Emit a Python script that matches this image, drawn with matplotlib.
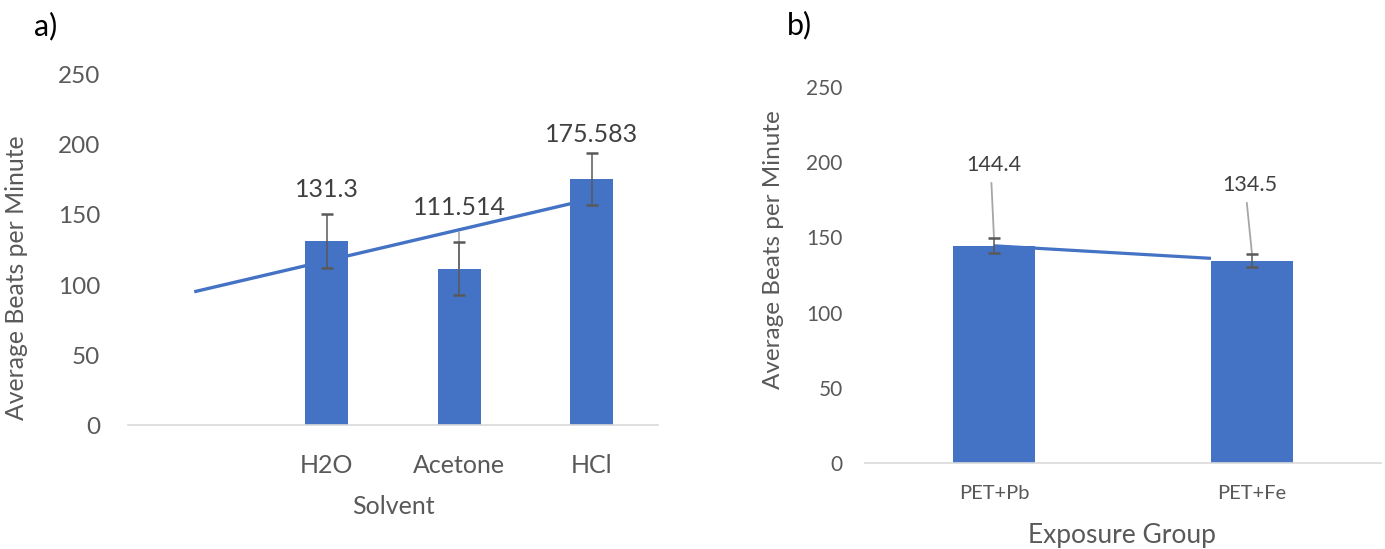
import numpy as np
import matplotlib
matplotlib.use("Agg")
import matplotlib.pyplot as plt

plt.rcParams['font.family'] = ['Lato', 'DejaVu Sans']

# ---- data ----
solvents = ["", "H2O", "Acetone", "HCl"]
solvent_bpm = [np.nan, 131.3, 111.514, 175.583]
solvent_err = [0, 19.2, 19.0, 18.7]

groups = ["PET+Pb", "PET+Fe"]
group_bpm = [144.4, 134.5]
group_err = [5.0, 4.4]

y_ticks = [0, 50, 100, 150, 200, 250]

# ---- styling ----
BAR = "#4472C4"
TICK = "#595959"
LABEL = "#404040"
AXIS = "#d9d9d9"
ERR = "#595959"

W, H = 1385, 549
fig = plt.figure(figsize=(W / 100, H / 100), dpi=100)


def px_axes(x0, x1, y_top, y_bot):
    return fig.add_axes([x0 / W, (H - y_bot) / H, (x1 - x0) / W, (y_bot - y_top) / H])


def style(ax, ncat, xsize, ysize, xpad, ypad):
    ax.set_xlim(-0.5, ncat - 0.5)
    ax.set_ylim(0, 250)
    for s in ("top", "right", "left"):
        ax.spines[s].set_visible(False)
    ax.spines["bottom"].set_color(AXIS)
    ax.spines["bottom"].set_linewidth(1.2)
    ax.set_yticks(y_ticks)
    ax.tick_params(axis="both", length=0, labelcolor=TICK)
    ax.tick_params(axis="x", pad=xpad, labelsize=xsize)
    ax.tick_params(axis="y", pad=ypad, labelsize=ysize)
    ax.set_facecolor("none")


# ---------------- panel a ----------------
axa = px_axes(128, 658, 75, 425)
xa = np.arange(len(solvents))
bw_a = 0.325
axa.bar(xa, np.nan_to_num(solvent_bpm), width=bw_a, color=BAR, zorder=2)
style(axa, len(solvents), 18, 17.5, 21, 20)
axa.set_xticks(xa[1:])
axa.set_xticklabels(solvents[1:])

# linear trendline fitted through the measured solvents
fit_x = xa[1:]
fit_y = np.array(solvent_bpm[1:])
slope, icpt = np.polyfit(fit_x, fit_y, 1)
tx = np.array([0.0, fit_x[-1] - bw_a / 2])
axa.plot(tx, icpt + slope * tx, color=BAR, lw=2.4, zorder=3, solid_capstyle="butt")

# leader for the Acetone label
axa.plot([2, 2], [138, solvent_bpm[2]], color="#a6a6a6", lw=1.2, zorder=3.5)

axa.errorbar(fit_x, fit_y, yerr=solvent_err[1:], fmt="none", ecolor=ERR,
             elinewidth=1.1, capsize=4.5, capthick=1.8, zorder=4)

label_a_offsets = [17.4, 24.5, 12.9]
for xi, v, e, off in zip(fit_x, fit_y, solvent_err[1:], label_a_offsets):
    axa.text(xi, v + e + off, f"{v:g}", ha="center", va="center",
             fontsize=18, color=LABEL, zorder=5)

fig.text(17 / W, 1 - 278 / H, "Average Beats per Minute", rotation=90,
         ha="center", va="center", fontsize=17.8, color=TICK)
fig.text(393 / W, 1 - 506 / H, "Solvent", ha="center", va="center",
         fontsize=18, color=TICK)
fig.text(34 / W, 1 - 26 / H, "a)", ha="left", va="center", fontsize=22, color="black")

# ---------------- panel b ----------------
axb = px_axes(865, 1381, 87, 463)
xb = np.arange(len(groups))
bw_b = 0.318
axb.bar(xb, group_bpm, width=bw_b, color=BAR, zorder=2)
style(axb, len(groups), 14.5, 15, 16, 16)
axb.set_xticks(xb)
axb.set_xticklabels(groups)

slope_b, icpt_b = np.polyfit(xb, group_bpm, 1)
tbx = np.array([0.0, xb[-1] - bw_b / 2])
axb.plot(tbx, icpt_b + slope_b * tbx, color=BAR, lw=2.3, zorder=3, solid_capstyle="butt")

axb.errorbar(xb, group_bpm, yerr=group_err, fmt="none", ecolor=ERR,
             elinewidth=1.1, capsize=4.5, capthick=1.8, zorder=4)

label_b_pos = [(0.0, 198.1), (0.99, 184.8)]
for xi, v, e, (lx, ly) in zip(xb, group_bpm, group_err, label_b_pos):
    axb.text(lx, ly, f"{v:g}", ha="center", va="center", fontsize=15.5,
             color=LABEL, zorder=5)
    axb.plot([lx - 0.01, xi], [ly - 12, v + e], color="#a6a6a6", lw=1.3, zorder=3.5)

fig.text(774 / W, 1 - 250 / H, "Average Beats per Minute", rotation=90,
         ha="center", va="center", fontsize=17.5, color=TICK)
fig.text(1122 / W, 1 - 535 / H, "Exposure Group", ha="center", va="center",
         fontsize=19, color=TICK)
fig.text(787 / W, 1 - 25 / H, "b)", ha="left", va="center", fontsize=22, color="black")

fig.savefig("out.png", dpi=100, facecolor="white")
